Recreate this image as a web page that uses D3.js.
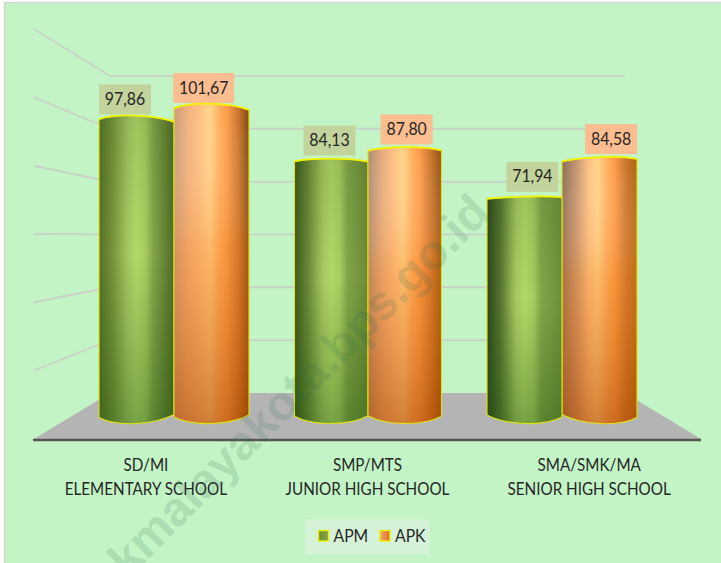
<!DOCTYPE html>
<html>
<head>
<meta charset="utf-8">
<script src="https://cdn.jsdelivr.net/npm/d3@7/dist/d3.min.js"></script>
<style>
html,body{margin:0;padding:0;background:#fff;overflow:hidden}
svg{display:block}
text{font-family:Lato,"Open Sans",sans-serif;fill:#262626}
</style>
</head>
<body>
<svg id="c" width="721" height="563"></svg>
<script>
const categoriesTop = ["SD/MI", "SMP/MTS", "SMA/SMK/MA"];
const categoriesBottom = ["ELEMENTARY SCHOOL", "JUNIOR HIGH SCHOOL", "SENIOR HIGH SCHOOL"];
const seriesNames = ["APM", "APK"];
const apm = [97.86, 84.13, 71.94];
const apk = [101.67, 87.80, 84.58];
const yTicks = [0, 20, 40, 60, 80, 100, 120];

const W = 721, H = 563;
const svg = d3.select("#c");
const defs = svg.append("defs");

// scales
const yBack = d3.scaleLinear().domain([0, 120]).range([393, 76]);
const yFront = d3.scaleLinear().domain([0, 120]).range([439, 29]);
const yBar = d3.scaleLinear().domain([0, 120]).range([412, 53.2]);
const xGroup = d3.scaleBand().domain(categoriesTop).range([77, 659]).paddingInner(0.227).paddingOuter(0.1135);
const xSeries = d3.scaleBand().domain(seriesNames).range([0, xGroup.bandwidth()]);
const xLabel = d3.scaleBand().domain(categoriesTop).range([35, 700]);
const comma = d3.formatLocale({decimal: ",", thousands: ".", grouping: [3], currency: ["", ""]}).format(".2f");

const backL = 110, backR = 625, frontL = 34, frontR = 701, vanish = 367;
const groupSqueeze = [1, 0.98, 1];

// frame
svg.append("rect").attr("x", 4).attr("y", 2).attr("width", W).attr("height", H).attr("fill", "#c3f4c5");
svg.append("path").attr("d", `M4.5 ${H}V2.5H${W}`).attr("fill", "none").attr("stroke", "#d6d6d6").attr("stroke-width", 1.5);

// walls
const gridColor = "#c9d4c9";
svg.append("g").selectAll("line").data(yTicks.slice(1)).join("line")
  .attr("x1", backL).attr("x2", backR)
  .attr("y1", d => yBack(d)).attr("y2", d => yBack(d))
  .attr("stroke", gridColor).attr("stroke-width", 2);
svg.append("g").selectAll("line").data(yTicks.slice(1)).join("line")
  .attr("x1", frontL).attr("x2", backL)
  .attr("y1", d => yFront(d)).attr("y2", d => yBack(d))
  .attr("stroke", gridColor).attr("stroke-width", 2);

// floor
svg.append("path")
  .attr("d", d3.line()([[frontL, yFront(0)], [backL, yBack(0)], [backR, yBack(0)], [frontR, yFront(0)]]) + "Z")
  .attr("fill", "#b4b4b4");
svg.append("line").attr("x1", frontL - 1).attr("x2", frontR).attr("y1", yFront(0) + 1).attr("y2", yFront(0) + 1)
  .attr("stroke", "#555").attr("stroke-width", 2.6);

// gradients
function hGrad(id, stops) {
  const g = defs.append("linearGradient").attr("id", id);
  stops.forEach(s => g.append("stop").attr("offset", s[0]).attr("stop-color", s[1]));
}
function vGrad(id, stops) {
  const g = defs.append("linearGradient").attr("id", id).attr("x1", 0).attr("x2", 0).attr("y1", 0).attr("y2", 1);
  stops.forEach(s => g.append("stop").attr("offset", s[0]).attr("stop-color", s[1]).attr("stop-opacity", s[2]));
}
const greenLeft = ["#55702a", "#3c5720", "#2c4520"], greenMid = ["#769339", "#688835", "#55752e"], greenRight = ["#4e6b27", "#6a8a37", "#6c8e3b"];
const orangeLeft = ["#c99c7a", "#ad8b70", "#8b6c58"], orangeMid = ["#f4b27e", "#e8ac7e", "#c8976f"], orangeRight = ["#7a430e", "#8c5012", "#ad640f"];
categoriesTop.forEach((c, i) => {
  hGrad("g" + i, [[0, greenLeft[i]], [0.18, greenMid[i]], [0.38, "#a6c661"], [0.5, "#b2d868"], [0.62, "#a8cb60"], [0.72, "#83a548"], [1, greenRight[i]]]);
  hGrad("o" + i, [[0, orangeLeft[i]], [0.2, orangeMid[i]], [0.36, "#ffc282"], [0.48, "#ffd488"], [0.6, "#ffb060"], [0.7, "#fd9c48"], [0.86, "#c8732a"], [1, orangeRight[i]]]);
});
vGrad("gShade", [[0, "#2c4a10", 0.14], [0.45, "#2c5a10", 0], [1, "#1c5008", 0.38]]);
vGrad("oShade", [[0, "#fff", 0], [0.45, "#f08020", 0.3], [1, "#b04a00", 0.6]]);

// bars
function barParts(x0, w, v) {
  const x1 = x0 + w, cx = x0 + w / 2;
  const top = yBar(v), base = yBar(0);
  const cap = d3.scaleLinear().domain([70, 102]).range([1, 5.5])(v);
  const tiltT = (vanish - cx) / 232 * 2.5;
  const tiltB = (cx - vanish) / 190 * 2.5;
  const tl = top + 1 - tiltT / 2, tr = top + 1 + tiltT / 2;
  const bl = base + 4 - tiltB / 2, br = base + 4 + tiltB / 2;
  const capLine = d3.path();
  capLine.moveTo(x0, tl);
  capLine.bezierCurveTo(x0 + w * 0.25, tl - cap * 1.3, x1 - w * 0.25, tr - cap * 1.3, x1, tr);
  const rest = `L${x1} ${br}C${x1 - w * 0.25} ${br + 10} ${x0 + w * 0.25} ${bl + 10} ${x0} ${bl}Z`;
  return {outline: capLine.toString() + rest, cap: capLine.toString()};
}
const bars = [];
categoriesTop.forEach((c, i) => {
  const pair = [
    {s: "APM", v: apm[i], g: i, kind: "g", shade: "gShade", box: "#c2d39b"},
    {s: "APK", v: apk[i], g: i, kind: "o", shade: "oShade", box: "#fcbd90"}
  ];
  if (i === 2) pair.reverse();
  const mid = xGroup(c) + xGroup.bandwidth() / 2;
  pair.forEach(b => {
    const x = xGroup(c) + xSeries(b.s);
    b.x = mid + (x - mid) * groupSqueeze[i];
    b.w = xSeries.bandwidth() * groupSqueeze[i];
    bars.push(b);
  });
});
svg.append("g").selectAll("g").data(bars).join("g").each(function (d) {
  const g = d3.select(this), p = barParts(d.x, d.w, d.v);
  g.append("path").attr("d", p.outline).attr("fill", `url(#${d.kind}${d.g})`);
  g.append("path").attr("d", p.outline).attr("fill", `url(#${d.shade})`);
  g.append("path").attr("d", p.outline).attr("fill", "none").attr("stroke", "#dfe212").attr("stroke-width", 1.1);
  g.append("path").attr("d", p.cap).attr("fill", "none").attr("stroke", "#f2f404").attr("stroke-width", 1.8);
});

// value labels
const boxH = 30;
const labels = svg.append("g").selectAll("g").data(bars).join("g")
  .attr("transform", d => {
    const cx = d.x + d.w / 2;
    return `translate(${cx + (cx - vanish) * 0.05},${yBar(d.v) - 5})`;
  });
labels.append("rect")
  .attr("x", d => d.v > 100 ? -30.5 : -26).attr("width", d => d.v > 100 ? 61 : 52)
  .attr("y", -boxH).attr("height", boxH)
  .attr("fill", d => d.box);
labels.append("text").attr("text-anchor", "middle")
  .attr("transform", "translate(0,-9.5) scale(0.88,1)")
  .style("font-size", "18px").text(d => comma(d.v));

// category labels
const cats = svg.append("g").selectAll("g").data(categoriesTop).join("g")
  .attr("transform", d => `translate(${xLabel(d) + xLabel.bandwidth() / 2},0) scale(0.87,1)`);
cats.append("text").attr("text-anchor", "middle").attr("y", 471).style("font-size", "17.5px").text(d => d);
cats.append("text").attr("text-anchor", "middle").attr("y", 495).style("font-size", "17.5px").text((d, i) => categoriesBottom[i]);

// legend
defs.append("linearGradient").attr("id", "lgO").call(g => {
  g.append("stop").attr("offset", 0).attr("stop-color", "#f4a868");
  g.append("stop").attr("offset", 1).attr("stop-color", "#d8702a");
});
defs.append("linearGradient").attr("id", "lgG").call(g => {
  g.append("stop").attr("offset", 0).attr("stop-color", "#6f8f3c");
  g.append("stop").attr("offset", 1).attr("stop-color", "#83a548");
});
svg.append("rect").attr("x", 305).attr("y", 519).attr("width", 125).attr("height", 35).attr("fill", "#d5f2d8");
const leg = svg.append("g").selectAll("g").data(seriesNames).join("g")
  .attr("transform", (d, i) => `translate(${318.5 + i * 61.5},530.5)`);
leg.append("rect").attr("width", 10).attr("height", 10.5)
  .attr("fill", d => d === "APM" ? "url(#lgG)" : "url(#lgO)")
  .attr("stroke", "#f0f000").attr("stroke-width", 1.4);
leg.append("text").attr("transform", "translate(15,11.5) scale(0.9,1)").style("font-size", "17.5px").text(d => d);

// watermark
svg.append("text")
  .attr("transform", "translate(492,215) rotate(-45)")
  .attr("text-anchor", "end")
  .style("font-family", '"Liberation Sans",sans-serif')
  .style("font-weight", "bold").style("font-size", "48px")
  .style("fill", "#2a6a50").style("fill-opacity", 0.18)
  .text("kmalayakota.bps.go.id");
</script>
</body>
</html>
